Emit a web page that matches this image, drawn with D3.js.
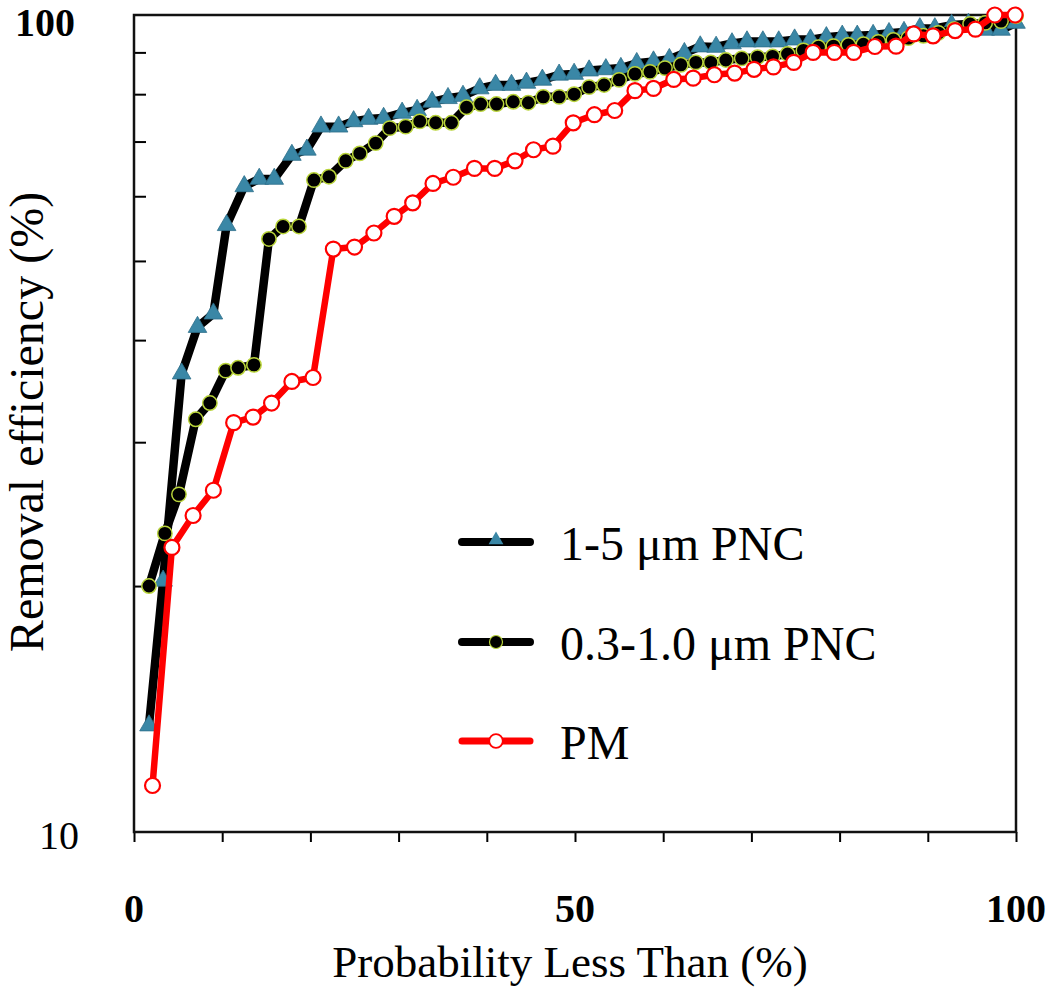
<!DOCTYPE html>
<html>
<head>
<meta charset="utf-8">
<script src="https://cdn.jsdelivr.net/npm/d3@7"></script>
<style>
    body { margin: 0; background: #fff; }
    svg { display: block; font-family: "Liberation Serif", "Times New Roman", serif; }
</style>
</head>
<body>
<svg id="chart" width="1050" height="993"></svg>
<script>
// probability (%) and removal efficiency (%)
const pnc15Prob = [1.7, 3.3, 5.4, 7.2, 9.0, 10.5, 12.5, 14.2, 15.9, 17.9, 19.6, 21.2, 23.2, 24.9, 26.6, 28.3,
    30.4, 32.1, 33.8, 35.6, 37.3, 39.2, 41.0, 42.8, 44.5, 46.3, 48.2, 49.9, 51.6, 53.5, 55.2, 57.0, 58.9, 60.7,
    62.4, 64.2, 66.0, 67.8, 69.5, 71.3, 73.1, 74.9, 76.7, 78.5, 80.3, 82.0, 83.8, 85.6, 87.3, 89.1, 90.8, 92.7,
    94.6, 96.5, 98.3, 100];
const pnc15Eff = [13.5, 20.3, 36.4, 41.5, 43.1, 55.3, 61.7, 63.0, 63.0, 67.4, 68.4, 73.0, 73.0, 74.1, 74.6, 74.8,
    75.9, 76.5, 78.3, 79.1, 79.6, 81.3, 82.1, 82.1, 82.6, 83.3, 84.5, 84.7, 85.5, 85.8, 86.1, 87.3, 87.7, 88.3,
    89.8, 91.5, 91.4, 92.3, 92.8, 92.8, 92.8, 93.3, 93.3, 93.9, 94.3, 94.3, 94.5, 95.0, 95.3, 96.3, 96.3, 97.2,
    97.5, 95.9, 95.9, 97.8];

const pnc0310Prob = [1.7, 3.5, 5.1, 7.0, 8.6, 10.4, 11.8, 13.6, 15.3, 16.9, 18.7, 20.4, 22.1, 24.0, 25.6, 27.4,
    29.0, 30.8, 32.4, 34.2, 36.0, 37.7, 39.3, 41.1, 43.0, 44.7, 46.4, 48.2, 49.9, 51.6, 53.3, 55.0, 56.8, 58.5,
    60.2, 62.0, 63.7, 65.4, 67.1, 68.9, 70.7, 72.4, 74.1, 75.9, 77.6, 79.3, 81.0, 82.7, 84.4, 86.1, 87.8, 89.5,
    91.2, 93.0, 94.8, 96.5, 98.3, 100];
const pnc0310Eff = [20.0, 23.2, 25.9, 32.0, 33.5, 36.7, 37.0, 37.3, 53.2, 55.1, 55.1, 62.8, 63.4, 66.3, 67.7, 69.7,
    72.7, 73.0, 74.1, 73.8, 73.8, 77.1, 77.8, 77.8, 78.3, 78.1, 79.4, 79.4, 80.0, 81.6, 82.1, 83.3, 84.7, 85.2,
    86.1, 86.9, 87.5, 87.5, 88.1, 88.5, 88.8, 89.0, 89.6, 90.5, 91.3, 91.6, 91.9, 92.1, 92.7, 93.2, 93.7, 94.3,
    95.1, 96.1, 97.5, 97.8, 98.3, 99.7];

const pmProb = [2.1, 4.3, 6.7, 9.0, 11.3, 13.5, 15.6, 17.9, 20.3, 22.6, 25.0, 27.2, 29.5, 31.6, 33.9, 36.2,
    38.6, 40.9, 43.2, 45.3, 47.5, 49.8, 52.2, 54.5, 56.8, 58.9, 61.2, 63.4, 65.8, 68.1, 70.3, 72.5, 74.8, 77.0,
    79.4, 81.6, 84.0, 86.4, 88.4, 90.6, 93.1, 95.4, 97.6, 99.9];
const pmEff = [11.4, 22.3, 24.4, 26.2, 31.7, 32.2, 33.5, 35.6, 36.0, 51.7, 52.0, 54.1, 56.7, 58.9, 62.2, 63.3,
    64.9, 64.9, 66.3, 68.4, 69.1, 73.8, 75.5, 76.4, 80.8, 81.3, 83.4, 83.7, 84.5, 84.9, 85.8, 86.4, 87.5, 90.0,
    90.0, 90.0, 91.5, 91.6, 94.8, 94.3, 95.7, 96.1, 100, 100];

const seriesNames = ["1-5 \u03bcm PNC", "0.3-1.0 \u03bcm PNC", "PM"];
const xTickValues = [0, 10, 20, 30, 40, 50, 60, 70, 80, 90, 100];
const xTickLabels = [0, 50, 100];
const yMinorTicks = [20, 30, 40, 50, 60, 70, 80, 90];

const margin = {top: 15, right: 34, bottom: 161, left: 134};
const width = 1050 - margin.left - margin.right;
const height = 993 - margin.top - margin.bottom;

const x = d3.scaleLinear().domain([0, 100]).range([0, width]);
const y = d3.scaleLog().domain([10, 100]).range([height, 0]);

const svg = d3.select("#chart");
const g = svg.append("g").attr("transform", `translate(${margin.left},${margin.top})`);

// x ticks (outside, no labels from the axis)
g.append("g")
    .attr("transform", `translate(0,${height})`)
    .call(d3.axisBottom(x).tickValues(xTickValues).tickSize(10).tickSizeOuter(0).tickFormat(""))
    .call(a => a.select(".domain").remove())
    .call(a => a.selectAll("line").attr("stroke", "#000").attr("stroke-width", 2));

// y minor ticks inside
g.append("g")
    .call(d3.axisLeft(y).tickValues(yMinorTicks).tickSize(-12).tickSizeOuter(0).tickFormat(""))
    .call(a => a.select(".domain").remove())
    .call(a => a.selectAll("line").attr("stroke", "#000").attr("stroke-width", 2));

// frame
g.append("rect")
    .attr("width", width).attr("height", height)
    .attr("fill", "none").attr("stroke", "#111").attr("stroke-width", 2.5);

// tick labels
g.selectAll(".xlab").data(xTickLabels).join("text")
    .attr("x", d => x(d)).attr("y", height + 90)
    .attr("text-anchor", "middle")
    .attr("font-size", 40).attr("font-weight", "bold")
    .text(d => d);

g.append("text").attr("x", -59).attr("y", y(100) + 21)
    .attr("text-anchor", "end").attr("font-size", 40).attr("font-weight", "bold").text("100");
g.append("text").attr("x", -55).attr("y", y(10) + 17)
    .attr("text-anchor", "end").attr("font-size", 40).text("10");

// axis titles
svg.append("text")
    .attr("x", 570).attr("y", 977)
    .attr("text-anchor", "middle").attr("font-size", 45)
    .text("Probability Less Than (%)");
svg.append("text")
    .attr("transform", "translate(43,422) rotate(-90)")
    .attr("text-anchor", "middle").attr("font-size", 48)
    .text("Removal efficiency (%)");

const line = d3.line().x(d => x(d[0])).y(d => y(d[1]));
const tri = d3.symbol().type(d3.symbolTriangle);

// 1-5 um PNC
const s1 = d3.zip(pnc15Prob, pnc15Eff);
g.append("path").datum(s1).attr("d", line)
    .attr("fill", "none").attr("stroke", "#000").attr("stroke-width", 8.5).attr("stroke-linejoin", "round");
g.selectAll(".tri").data(s1).join("path")
    .attr("transform", d => `translate(${x(d[0])},${y(d[1])})`)
    .attr("d", tri.size(150))
    .attr("fill", "#3a87a6").attr("stroke", "#2d6f8a").attr("stroke-width", 0.8);

// 0.3-1.0 um PNC
const s2 = d3.zip(pnc0310Prob, pnc0310Eff);
g.append("path").datum(s2).attr("d", line)
    .attr("fill", "none").attr("stroke", "#000").attr("stroke-width", 8.5).attr("stroke-linejoin", "round");
g.selectAll(".dot").data(s2).join("circle")
    .attr("cx", d => x(d[0])).attr("cy", d => y(d[1])).attr("r", 7.2)
    .attr("fill", "#000").attr("stroke", "#b9d43a").attr("stroke-width", 1.5);

// PM
const s3 = d3.zip(pmProb, pmEff);
g.append("path").datum(s3).attr("d", line)
    .attr("fill", "none").attr("stroke", "#ff0000").attr("stroke-width", 6.5).attr("stroke-linejoin", "round");
g.selectAll(".ring").data(s3).join("circle")
    .attr("cx", d => x(d[0])).attr("cy", d => y(d[1])).attr("r", 7.5)
    .attr("fill", "#fff").attr("stroke", "#ff0000").attr("stroke-width", 2.2);

// legend
const legendY = [542, 642, 741];
const legend = svg.append("g");
seriesNames.forEach((name, i) => {
    const row = legend.append("g").attr("transform", `translate(0,${legendY[i]})`);
    row.append("line").attr("x1", 462).attr("x2", 530)
        .attr("stroke", i === 2 ? "#ff0000" : "#000").attr("stroke-width", i === 2 ? 7 : 8)
        .attr("stroke-linecap", "round");
    if (i === 0) {
        row.append("path").attr("transform", "translate(496,-2)").attr("d", tri.size(95))
            .attr("fill", "#3a87a6");
    } else if (i === 1) {
        row.append("circle").attr("cx", 496).attr("r", 6.5)
            .attr("fill", "#000").attr("stroke", "#b9d43a").attr("stroke-width", 1.2);
    } else {
        row.append("circle").attr("cx", 496).attr("r", 6.8)
            .attr("fill", "#fff").attr("stroke", "#ff0000").attr("stroke-width", 1.8);
    }
    row.append("text").attr("x", 560).attr("y", 18)
        .attr("font-size", 48).text(name);
});
</script>
</body>
</html>
